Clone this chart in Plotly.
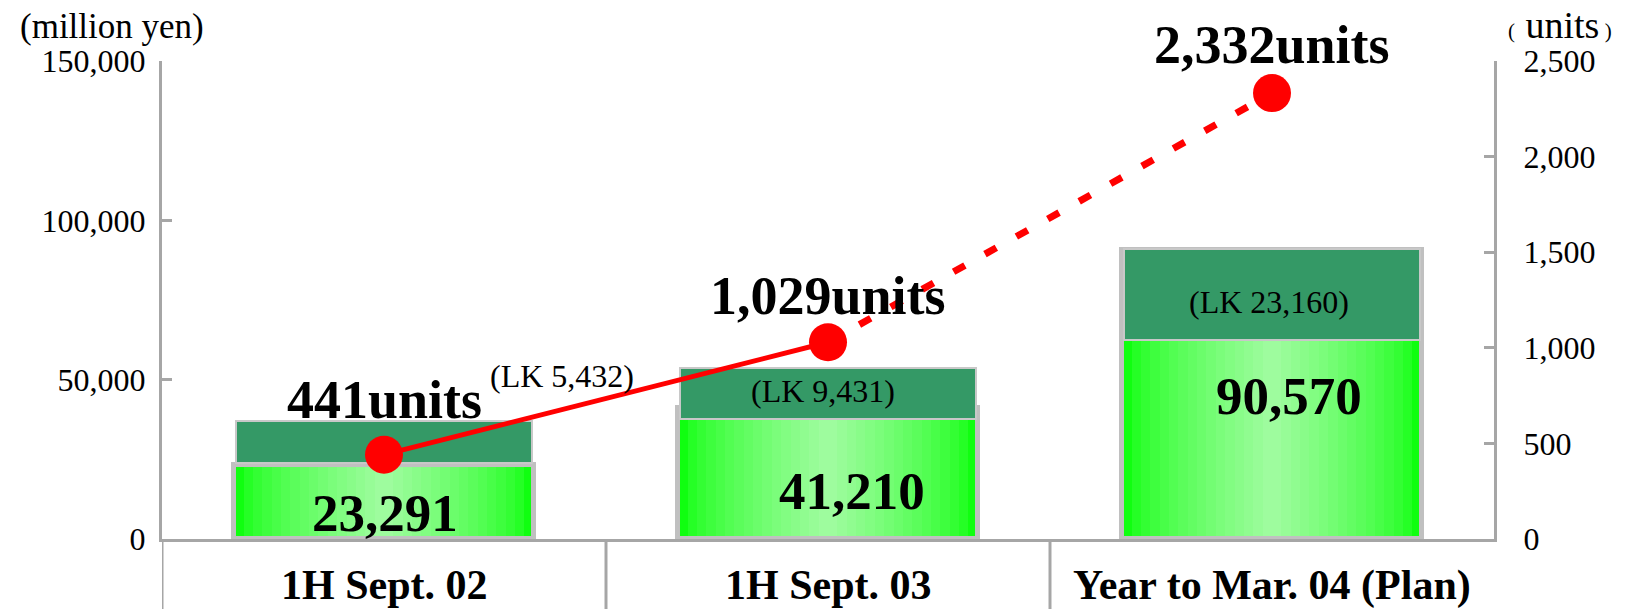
import plotly.graph_objects as go

# ---------------- data ----------------
categories = ["1H Sept. 02", "1H Sept. 03", "Year to Mar. 04 (Plan)"]
sales = [23291, 41210, 90570]                 # million yen (light green bars)
sales_labels = ["23,291", "41,210", "90,570"]
lk_base = [24000, 37600, 62500]               # dark green segment bottom (million yen)
lk_top = [37000, 53700, 91000]                # dark green segment top (million yen)
lk_labels = ["(LK 5,432)", "(LK 9,431)", "(LK 23,160)"]
units = [441, 1029, 2332]                     # units (right axis)
unit_labels = ["441units", "1,029units", "2,332units"]
left_ticks = [0, 50000, 100000, 150000]
right_ticks = [0, 500, 1000, 1500, 2000, 2500]

FONT = "Liberation Serif, Times New Roman, serif"
BAR_W = 0.675
GRAY = "#a6a6a6"

fig = go.Figure()

# light green bars with horizontal gradient (layers of decreasing width)
N = 16
edge = (16, 255, 16)
center = (158, 252, 158)
for i in range(N):
    f = (i / (N - 1)) ** 0.7
    c = tuple(int(round(edge[k] + (center[k] - edge[k]) * f)) for k in range(3))
    w = BAR_W * (1 - i / N)
    fig.add_trace(go.Bar(
        x=categories, y=sales, width=w, yaxis="y",
        marker=dict(color="rgb(%d,%d,%d)" % c, line=dict(width=0)),
        hoverinfo="skip", showlegend=False))

# border of light bars
fig.add_trace(go.Bar(
    x=categories, y=sales, width=BAR_W, yaxis="y",
    marker=dict(color="rgba(0,0,0,0)", line=dict(color="#c0c0c0", width=5)),
    showlegend=False))

# dark green (LK) segments
fig.add_trace(go.Bar(
    x=categories, y=[t - b for t, b in zip(lk_top, lk_base)], base=lk_base,
    width=BAR_W * 0.985, yaxis="y",
    marker=dict(color="#349966", line=dict(color="#c8c8c8", width=2)),
    showlegend=False))

# unit line: solid first segment, dashed second
fig.add_trace(go.Scatter(
    x=categories[:2], y=units[:2], yaxis="y2", mode="lines",
    line=dict(color="#ff0000", width=5), showlegend=False))
fig.add_trace(go.Scatter(
    x=categories[1:], y=units[1:], yaxis="y2", mode="lines",
    line=dict(color="#ff0000", width=7, dash="13px,23px"), showlegend=False))
fig.add_trace(go.Scatter(
    x=categories, y=units, yaxis="y2", mode="markers",
    marker=dict(color="#ff0000", size=38, line=dict(width=0)), showlegend=False))

annotations = []
# unit labels
unit_yshift = [55, 46, 48]
for i, t in enumerate(unit_labels):
    annotations.append(dict(x=categories[i], y=units[i], xref="x", yref="y2",
                            text=t, showarrow=False, yshift=unit_yshift[i],
                            font=dict(family=FONT, size=54, color="black", weight="bold")))
# sales labels
sales_xshift = [1, 24, 17]
sales_yshift = [-48, -83, -146]
for i, t in enumerate(sales_labels):
    annotations.append(dict(x=categories[i], y=sales[i], xref="x", yref="y",
                            text=t, showarrow=False, xshift=sales_xshift[i],
                            yshift=sales_yshift[i],
                            font=dict(family=FONT, size=53, color="black", weight="bold")))
# LK labels
lk_xshift = [178, -5, -3]
lk_yshift = [45, -23, -53]
for i, t in enumerate(lk_labels):
    annotations.append(dict(x=categories[i], y=lk_top[i], xref="x", yref="y",
                            text=t, showarrow=False, xshift=lk_xshift[i],
                            yshift=lk_yshift[i],
                            font=dict(family=FONT, size=32, color="black")))
# category labels
for c in categories:
    annotations.append(dict(x=c, y=0, xref="x", yref="paper", yanchor="middle",
                            text=c, showarrow=False, yshift=-46,
                            font=dict(family=FONT, size=42, color="black", weight="bold")))
# axis unit titles
annotations.append(dict(x=0, y=1, xref="paper", yref="paper", text="(million yen)",
                        showarrow=False, xanchor="center", yanchor="middle",
                        xshift=-50, yshift=35,
                        font=dict(family=FONT, size=35, color="black")))
annotations.append(dict(x=1, y=1, xref="paper", yref="paper",
                        text='<span style="font-size:21px">(&nbsp;&nbsp;</span>units<span style="font-size:21px">&nbsp;)</span>',
                        showarrow=False, xanchor="center", yanchor="middle",
                        xshift=66, yshift=36,
                        font=dict(family=FONT, size=38, color="black")))

shapes = []
for xb in [-0.5, 0.5, 1.5]:
    shapes.append(dict(type="line", xref="x", yref="paper", x0=xb, x1=xb, y0=0, y1=-0.2,
                       line=dict(color=GRAY, width=3)))

fig.update_layout(
    width=1630, height=609,
    margin=dict(l=162, r=136, t=61, b=70),
    paper_bgcolor="white", plot_bgcolor="white",
    barmode="overlay", bargap=0,
    font=dict(family=FONT, color="black"),
    showlegend=False,
    xaxis=dict(type="category", range=[-0.5, 2.5], showline=True, linecolor=GRAY,
               linewidth=3, showgrid=False, showticklabels=False, ticks="",
               zeroline=False),
    yaxis=dict(range=[0, 150000], tickvals=left_ticks, tickformat=",",
               showline=True, linecolor=GRAY, linewidth=3, ticks="inside",
               ticklen=10, tickwidth=3, tickcolor=GRAY, showgrid=False,
               zeroline=False, ticklabelstandoff=7,
               tickfont=dict(family=FONT, size=32, color="black")),
    yaxis2=dict(range=[0, 2500], tickvals=right_ticks, tickformat=",",
                overlaying="y", side="right", showline=True, linecolor=GRAY,
                linewidth=3, ticks="inside", ticklen=10, tickwidth=3, tickcolor=GRAY,
                showgrid=False, zeroline=False, ticklabelstandoff=20,
                tickfont=dict(family=FONT, size=32, color="black")),
    annotations=annotations,
    shapes=shapes,
)

fig.write_html("out.html")
